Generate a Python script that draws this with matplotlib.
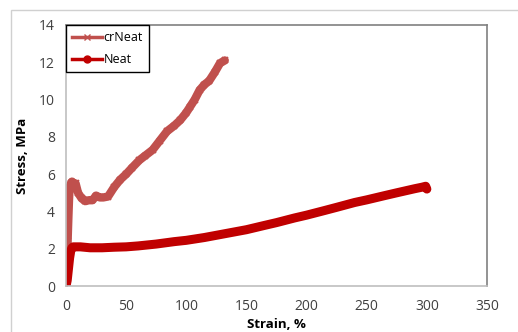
import matplotlib.pyplot as plt
from matplotlib.lines import Line2D
from matplotlib.patches import Rectangle

# Data
cr_strain = [0, 0.5, 1, 1.5, 2, 2.5, 3, 4, 5, 6, 8, 10, 13, 16, 19, 22, 25, 28, 31, 35,
             40, 45, 50, 55, 61, 66, 72, 78, 84, 90, 95, 100, 103, 107, 111, 115, 119,
             124, 128, 132]
cr_stress = [0, 0.7, 1.6, 2.7, 3.7, 4.6, 5.3, 5.5, 5.6, 5.4, 5.5, 5.0, 4.7, 4.55, 4.6,
             4.6, 4.85, 4.75, 4.75, 4.8, 5.3, 5.7, 6.0, 6.35, 6.75, 7.0, 7.3, 7.8, 8.3,
             8.6, 8.9, 9.3, 9.6, 10.0, 10.5, 10.8, 11.0, 11.5, 11.95, 12.1]

neat_strain = [0, 1, 2, 3, 4, 5, 6, 8, 12, 20, 30, 40, 50, 60, 75, 90, 100, 115, 125,
               140, 150, 165, 175, 190, 200, 215, 225, 240, 250, 265, 275, 290, 296,
               299, 300]
neat_stress = [0, 0.3, 0.9, 1.5, 1.9, 2.05, 2.1, 2.1, 2.1, 2.05, 2.05, 2.08, 2.1, 2.15,
               2.25, 2.38, 2.45, 2.6, 2.72, 2.9, 3.02, 3.25, 3.4, 3.65, 3.8, 4.05, 4.22,
               4.48, 4.62, 4.85, 5.0, 5.22, 5.3, 5.35, 5.2]

x_ticks = [0, 50, 100, 150, 200, 250, 300, 350]
y_ticks = [0, 2, 4, 6, 8, 10, 12, 14]

cr_color = '#C0504D'
neat_color = '#C00000'

plt.rcParams['font.family'] = ['Open Sans', 'DejaVu Sans']

fig = plt.figure(figsize=(5.18, 3.32), dpi=100)
ax = fig.add_axes([66 / 518, 46 / 332, 421 / 518, 261 / 332])

# outer chart border (cropped at right and bottom)
fig.add_artist(Rectangle((11 / 518, -0.2), 2, (322 / 332) + 0.2,
                         transform=fig.transFigure, fill=False,
                         edgecolor='#D0D0D0', linewidth=1))

ax.plot(cr_strain, cr_stress, color=cr_color, linewidth=6, marker='x',
        markersize=5, markeredgewidth=1.2, solid_capstyle='round',
        solid_joinstyle='round')
ax.plot(neat_strain, neat_stress, color=neat_color, linewidth=6.5,
        solid_capstyle='round', solid_joinstyle='round')

ax.set_xlim(0, 350)
ax.set_ylim(0, 14)
ax.set_xticks(x_ticks)
ax.set_yticks(y_ticks)
ax.tick_params(length=0, labelsize=10, colors='#404040', pad=8)
ax.tick_params(axis='x', pad=9)

ax.spines['left'].set_color('#BFBFBF')
ax.spines['bottom'].set_color('#BFBFBF')
ax.spines['top'].set_color('#808080')
ax.spines['right'].set_color('#808080')
for s in ax.spines.values():
    s.set_linewidth(1.2)

ax.set_xlabel('Strain, %', fontsize=9.5, fontweight='bold', labelpad=3)
ax.set_ylabel('Stress, MPa', fontsize=9.5, fontweight='bold', labelpad=7)

handles = [
    Line2D([], [], color=cr_color, linewidth=2.5, marker='x', markersize=5,
           markeredgewidth=1),
    Line2D([], [], color=neat_color, linewidth=2.5, marker='o', markersize=5),
]
leg = ax.legend(handles, ['crNeat', 'Neat'], loc='upper left',
                bbox_to_anchor=(0, 1), borderaxespad=0, fancybox=False,
                edgecolor='black', framealpha=1, fontsize=9, handlelength=2.4,
                handletextpad=0.1, labelspacing=0.7, borderpad=0.5)
leg.get_frame().set_linewidth(1)

fig.savefig('out.png', dpi=100)
